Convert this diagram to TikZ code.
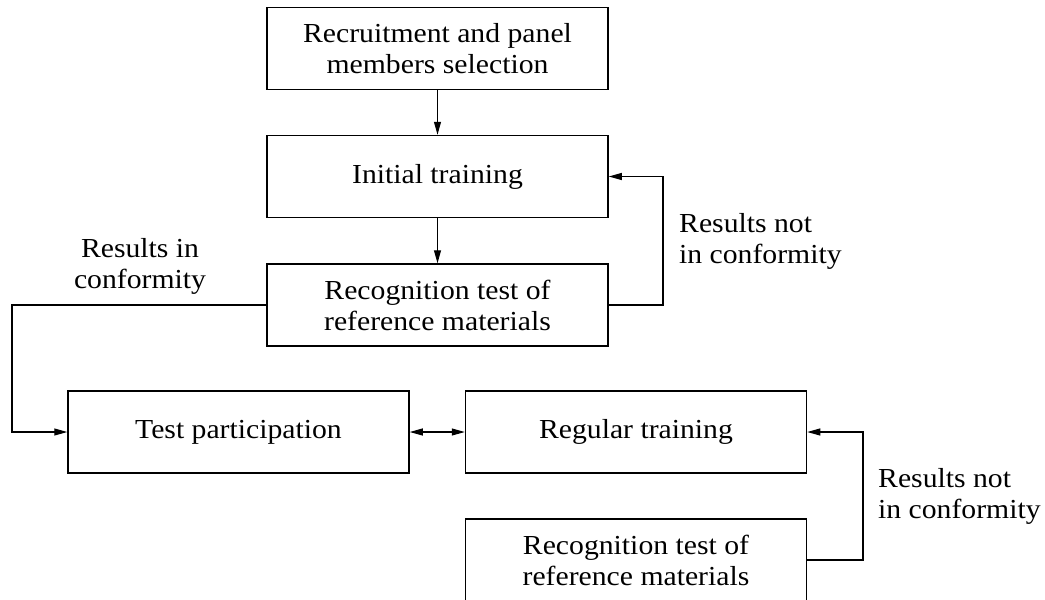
\documentclass[tikz,border=0pt]{standalone}
\usepackage{fontspec}
\setmainfont[FakeStretch=1.08]{Liberation Serif}
\usetikzlibrary{arrows.meta}
\begin{document}
\begin{tikzpicture}[x=1pt,y=-1pt,
  box/.style={draw, line width=1.5pt, minimum width=341pt, minimum height=82pt, inner sep=0pt, align=center, font=\fontsize{27.5}{31}\selectfont},
  lbl/.style={inner sep=0pt, font=\fontsize{27.5}{31}\selectfont},
  conn/.style={line width=1.1pt, -{Triangle[length=13pt,width=7pt]}},
  both/.style={line width=1.1pt, {Triangle[length=13pt,width=7pt]}-{Triangle[length=13pt,width=7pt]}}]
\useasboundingbox (0,0) rectangle (1045,600);
\node[box] (b1) at (437.5,48.5) {Recruitment and panel\\members selection};
\node[box] (b2) at (437.5,176.5) {Initial training};
\node[box] (b3) at (437.5,305) {Recognition test of\\reference materials};
\node[box] (b4) at (238.5,432) {Test participation};
\node[box] (b5) at (636,432) {Regular training};
\node[box] (b6) at (636,560) {Recognition test of\\reference materials};
\node[lbl, align=center] (l1) at (140,266) {Results in\\conformity};
\node[lbl, align=left, anchor=west] (l2) at (679,241) {Results not\\in conformity};
\node[lbl, align=left, anchor=west] (l3) at (878,496) {Results not\\in conformity};
\coordinate (c1) at (663,0);
\coordinate (c2) at (12,0);
\coordinate (c3) at (863,0);
\draw[conn] (b1) -- (b2);
\draw[conn] (b2) -- (b3);
\draw[conn] (b3.east) -- (b3.east -| c1) |- (b2.east);
\draw[conn] (b3.west) -- (b3.west -| c2) |- (b4.west);
\draw[conn] (b6.east) -- (b6.east -| c3) |- (b5.east);
\draw[both] (b4) -- (b5);
\end{tikzpicture}
\end{document}
